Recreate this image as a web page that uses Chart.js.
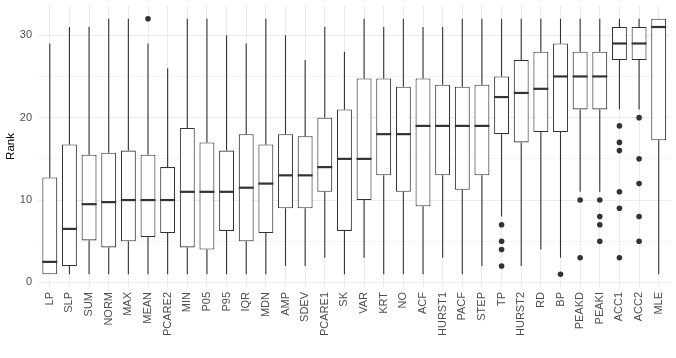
<!DOCTYPE html>
<html>
<head>
<meta charset="utf-8">
<script src="https://cdn.jsdelivr.net/npm/chart.js@4/dist/chart.umd.min.js"></script>
<style>
  body { margin: 0; background: #fff; }
  #wrap { width: 676px; height: 358px; }
</style>
</head>
<body>
<div id="wrap"><canvas id="rankChart"></canvas></div>
<script>
const categories = ["LP", "SLP", "SUM", "NORM", "MAX", "MEAN", "PCARE2", "MIN", "P05", "P95", "IQR", "MDN", "AMP", "SDEV", "PCARE1", "SK", "VAR", "KRT", "NO", "ACF", "HURST1", "PACF", "STEP", "TP", "HURST2", "RD", "BP", "PEAKD", "PEAKI", "ACC1", "ACC2", "MLE"];
const whiskerLow = [1, 1, 1, 1, 1, 1, 1, 1, 1, 1, 1, 1, 2, 2, 3, 1, 3, 1, 1, 1, 3, 1, 2, 8, 2, 4, 3, 11, 11, 21, 21, 1];
const lowerQ = [1, 2, 5.1, 4.25, 5, 5.5, 6, 4.25, 4, 6.25, 5, 6, 9, 9, 11, 6.25, 10, 13, 11, 9.25, 13, 11.25, 13, 18, 17, 18.25, 18.25, 21, 21, 27, 27, 17.25];
const medians = [2.5, 6.5, 9.5, 9.75, 10, 10, 10, 11, 11, 11, 11.5, 12, 13, 13, 14, 15, 15, 18, 18, 19, 19, 19, 19, 22.5, 23, 23.5, 25, 25, 25, 29, 29, 31];
const upperQ = [12.75, 16.75, 15.5, 15.75, 16, 15.5, 14, 18.75, 17, 16, 18, 16.75, 18, 17.75, 20, 21, 24.75, 24.75, 23.75, 24.75, 24, 23.75, 24, 25, 27, 28, 29, 28, 28, 31, 31, 32];
const whiskerHigh = [29, 31, 31, 32, 32, 29, 26, 32, 32, 30, 29, 32, 30, 27, 31, 28, 32, 31, 32, 31, 31, 32, 32, 32, 32, 32, 32, 32, 32, 32, 32, 32];
const outliers = [[], [], [], [], [], [32], [], [], [], [], [], [], [], [], [], [], [], [], [], [], [], [], [], [7, 5, 4, 2], [], [], [1], [10, 3], [10, 8, 7, 5], [19, 17, 16, 11, 9, 3], [20, 15, 12, 8, 5], []];
const yTicks = [0, 5, 10, 15, 20, 25, 30];

const ink = '#333333';

Chart.defaults.font.family = '"Liberation Sans", Arial, sans-serif';

// whiskers behind the boxes, medians and outliers on top
const boxParts = {
  id: 'boxParts',
  beforeDatasetsDraw(chart) {
    const ctx = chart.ctx;
    const xs = chart.scales.x;
    const ys = chart.scales.y;
    ctx.save();
    ctx.strokeStyle = ink;
    ctx.lineWidth = 1.1;
    categories.forEach((_, i) => {
      const px = xs.getPixelForValue(i);
      ctx.beginPath();
      ctx.moveTo(px, ys.getPixelForValue(whiskerLow[i]));
      ctx.lineTo(px, ys.getPixelForValue(lowerQ[i]));
      ctx.moveTo(px, ys.getPixelForValue(upperQ[i]));
      ctx.lineTo(px, ys.getPixelForValue(whiskerHigh[i]));
      ctx.stroke();
    });
    ctx.restore();
  },
  afterDatasetsDraw(chart) {
    const ctx = chart.ctx;
    const xs = chart.scales.x;
    const ys = chart.scales.y;
    const bars = chart.getDatasetMeta(0).data;
    ctx.save();
    ctx.strokeStyle = ink;
    ctx.fillStyle = ink;
    ctx.lineWidth = 2.2;
    categories.forEach((_, i) => {
      const px = xs.getPixelForValue(i);
      const half = bars[i].width / 2;
      const py = ys.getPixelForValue(medians[i]);
      ctx.beginPath();
      ctx.moveTo(px - half, py);
      ctx.lineTo(px + half, py);
      ctx.stroke();
      outliers[i].forEach(v => {
        ctx.beginPath();
        ctx.arc(px, ys.getPixelForValue(v), 2.8, 0, Math.PI * 2);
        ctx.fill();
      });
    });
    ctx.restore();
  }
};

new Chart(document.getElementById('rankChart'), {
  type: 'bar',
  data: {
    datasets: [{
      data: categories.map((_, i) => ({ x: i, y: [lowerQ[i], upperQ[i]] })),
      backgroundColor: '#ffffff',
      borderColor: ink,
      borderWidth: 1.1,
      borderSkipped: false,
      barPercentage: 0.76,
      categoryPercentage: 1
    }]
  },
  options: {
    responsive: true,
    maintainAspectRatio: false,
    animation: false,
    layout: { padding: { top: 6, right: 5.5, left: 0, bottom: 0 } },
    plugins: {
      legend: { display: false },
      tooltip: { enabled: false }
    },
    scales: {
      x: {
        type: 'linear',
        offset: false,
        min: -0.6,
        max: 31.6,
        afterBuildTicks: (axis) => { axis.ticks = categories.map((_, i) => ({ value: i })); },
        afterFit: (scale) => {
          scale.height = 71;
          scale.paddingLeft = 0;
          scale.paddingRight = 0;
        },
        border: { display: false },
        grid: { color: '#ebebeb', lineWidth: 1, drawTicks: false, offset: false },
        ticks: {
          autoSkip: false,
          minRotation: 90,
          maxRotation: 90,
          padding: 5,
          color: '#4d4d4d',
          font: { size: 11 },
          callback: (v) => categories[v]
        }
      },
      y: {
        min: -0.55,
        max: 33.55,
        afterBuildTicks: (axis) => { axis.ticks = yTicks.map(v => ({ value: v })); },
        afterFit: (scale) => {
          scale.width = 38;
          scale.paddingTop = 0;
          scale.paddingBottom = 0;
        },
        border: { display: false },
        grid: {
          drawTicks: false,
          lineWidth: 1,
          color: (c) => (c.tick && c.tick.value % 10 === 0) ? '#ebebeb' : '#f4f4f4'
        },
        ticks: {
          padding: 6,
          color: '#4d4d4d',
          font: { size: 11 },
          callback: (v) => v % 10 === 0 ? v : ''
        },
        title: {
          display: true,
          text: 'Rank',
          color: '#000000',
          font: { size: 11.5 },
          padding: { top: 4, bottom: 0 }
        }
      }
    }
  },
  plugins: [boxParts]
});
</script>
</body>
</html>
